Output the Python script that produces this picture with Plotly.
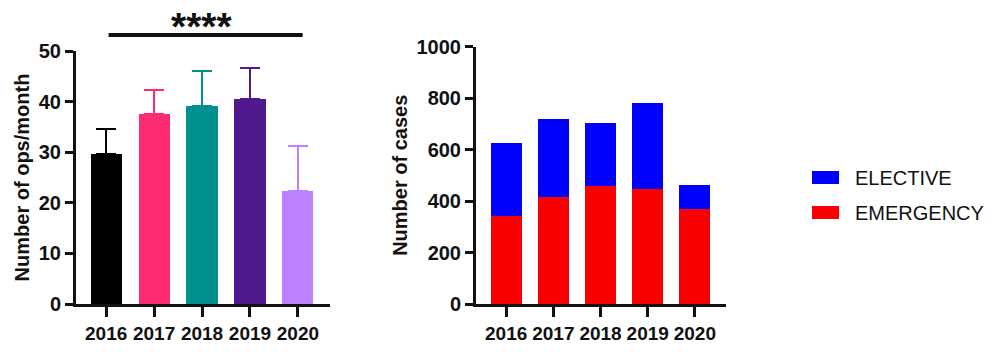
import plotly.graph_objects as go

years = ["2016", "2017", "2018", "2019", "2020"]
ops_mean = [29.7, 37.6, 39.1, 40.6, 22.4]
ops_upper = [34.6, 42.3, 46.0, 46.7, 31.2]
ops_colors = ["#000000", "#FF2A74", "#009090", "#501A8E", "#BD80FF"]

emergency = [340, 417, 457, 448, 368]
elective = [287, 303, 247, 331, 93]
series_names = ["ELECTIVE", "EMERGENCY"]
series_colors = ["#0000FF", "#FA0000"]

W, H = 1000, 352
def px(x):
    return x / W
def py(y):
    return (H - y) / H

fig = go.Figure()

# Left chart bars with one-sided error bars
for i, yr in enumerate(years):
    fig.add_trace(go.Bar(
        x=[yr], y=[ops_mean[i]], marker=dict(color=ops_colors[i], line=dict(width=0)),
        width=0.65, xaxis="x", yaxis="y", showlegend=False,
        error_y=dict(type="data", symmetric=False, array=[ops_upper[i] - ops_mean[i]],
                     arrayminus=[0], color=ops_colors[i], thickness=2, width=10),
    ))

# Right chart stacked bars
fig.add_trace(go.Bar(x=years, y=emergency, name=series_names[1],
                     marker=dict(color=series_colors[1], line=dict(width=0)),
                     width=0.66, xaxis="x2", yaxis="y2", showlegend=False))
fig.add_trace(go.Bar(x=years, y=elective, name=series_names[0],
                     marker=dict(color=series_colors[0], line=dict(width=0)),
                     width=0.66, xaxis="x2", yaxis="y2", showlegend=False))

FAM = "Liberation Sans, Arial"
common_x = dict(type="category", showline=True, linewidth=3, linecolor="#111111",
                ticks="outside", ticklen=10, tickwidth=3, tickcolor="#111111",
                tickfont=dict(family=FAM, size=19, color="#111111", weight="bold"),
                showgrid=False, zeroline=False, fixedrange=True, automargin=False)
common_y = dict(showline=True, linewidth=3, linecolor="#111111",
                ticks="outside", ticklen=8, tickwidth=3, tickcolor="#111111",
                tickfont=dict(family=FAM, size=20, color="#111111", weight="bold"),
                showgrid=False, zeroline=False, fixedrange=True, automargin=False)

fig.update_layout(
    template="none",
    width=W, height=H, margin=dict(l=0, r=0, t=0, b=0),
    paper_bgcolor="white", plot_bgcolor="white", barmode="stack",
    showlegend=False,
    xaxis=dict(**common_x, domain=[px(76), px(330)], range=[-0.63, 4.67], anchor="y"),
    yaxis=dict(**common_y, domain=[py(304), py(51)], range=[0, 50], dtick=10, anchor="x",
               title=dict(text="<b>Number of ops/month</b>", standoff=4,
                          font=dict(family=FAM, size=20, color="#111111"))),
    xaxis2=dict(**common_x, domain=[px(476), px(726)], range=[-0.64, 4.66], anchor="y2"),
    yaxis2=dict(**common_y, domain=[py(304), py(46.5)], range=[0, 1000], dtick=200, anchor="x2",
                title=dict(text="<b>Number of cases</b>", standoff=4,
                           font=dict(family=FAM, size=20, color="#111111"))),
)

# Significance bar and stars
fig.add_shape(type="line", xref="x", yref="paper", x0=0.05, x1=4.1, y0=py(35), y1=py(35),
              line=dict(color="#111111", width=4))
fig.add_annotation(text="<b>****</b>", xref="x", yref="paper", x=2.0, y=py(27),
                   showarrow=False, font=dict(family=FAM, size=39, color="#111111"),
                   yanchor="middle")

# Manual legend
legend_rows = [(series_names[0], series_colors[0], 177.5), (series_names[1], series_colors[1], 212.5)]
for name, col, yc in legend_rows:
    fig.add_shape(type="rect", xref="paper", yref="paper", x0=px(812), x1=px(839),
                  y0=py(yc + 6.5), y1=py(yc - 6.5), fillcolor=col, line=dict(width=0))
    fig.add_annotation(text=name, xref="paper", yref="paper", x=px(853), y=py(yc),
                       xanchor="left", yanchor="middle", showarrow=False,
                       font=dict(family=FAM, size=20, color="#111111"))

fig.write_html("out.html")
